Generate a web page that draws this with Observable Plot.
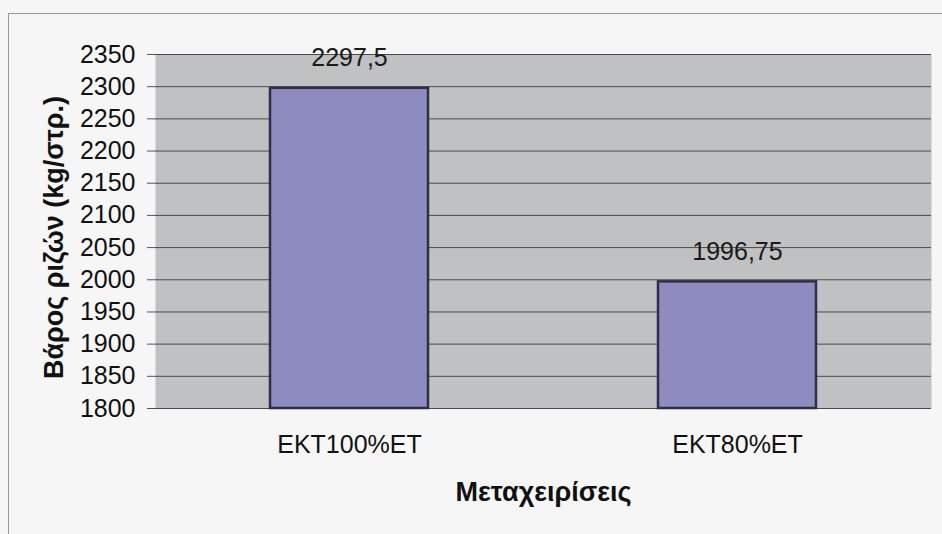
<!DOCTYPE html>
<html>
<head>
<meta charset="utf-8">
<script src="https://cdn.jsdelivr.net/npm/d3@7"></script>
<script src="https://cdn.jsdelivr.net/npm/@observablehq/plot@0.6"></script>
<style>
  html, body { margin: 0; padding: 0; background: #f6f6f6; width: 942px; height: 534px; overflow: hidden; }
  #frame { position: absolute; left: 8px; top: 13px; width: 960px; height: 560px; border: 1px solid #9a9a9a; box-sizing: border-box; }
  #chart { position: absolute; left: 0; top: 0; }
  svg { font-family: "Liberation Sans", Arial, sans-serif; }
</style>
</head>
<body>
<div id="frame"></div>
<div id="chart"></div>
<script>
const categories = ["EKT100%ET", "EKT80%ET"];
const values = [2297.5, 1996.75];
const valueLabels = ["2297,5", "1996,75"];
const yTicks = [1800, 1850, 1900, 1950, 2000, 2050, 2100, 2150, 2200, 2250, 2300, 2350];
const yTitle = "Βάρος ριζών (kg/στρ.)";
const xTitle = "Μεταχειρίσεις";

const data = categories.map((c, i) => ({cat: c, v: values[i], lab: valueLabels[i]}));

const chart = Plot.plot({
  width: 942,
  height: 534,
  marginLeft: 155,
  marginRight: 11,
  marginTop: 54,
  marginBottom: 126,
  style: {background: "transparent", fontFamily: "Liberation Sans, Arial, sans-serif", color: "#111"},
  x: {domain: categories, paddingInner: 0.593, paddingOuter: 0.2965, label: null},
  y: {domain: [1800, 2350], label: null},
  marks: [
    Plot.frame({fill: "#c0c1c3", stroke: null}),
    Plot.ruleY(yTicks, {stroke: "#4a4a4a", strokeWidth: 1}),
    Plot.ruleX([0], {frameAnchor: "left", stroke: "#777", strokeWidth: 1}),
    Plot.barY(data, {x: "cat", y1: 1800, y2: "v", fill: "#8e8bc0", stroke: "#2e2e4a", strokeWidth: 2.5}),
    Plot.text(data, {x: "cat", y: "v", text: "lab", dy: -30, fontSize: 25, fill: "#1a1a1a"}),
    Plot.axisY({ticks: yTicks, tickSize: 8, tickPadding: 12, fontSize: 25, label: null, tickFormat: d => String(d), stroke: "#555"}),
    Plot.axisX({tickSize: 0, tickPadding: 27, fontSize: 25, label: null}),
    Plot.text([yTitle], {frameAnchor: "left", textAnchor: "middle", lineAnchor: "middle", dx: -101, dy: 6, rotate: -90, fontSize: 27, fontWeight: "bold", fill: "#111"}),
    Plot.text([xTitle], {frameAnchor: "bottom", lineAnchor: "middle", dy: 84, fontSize: 27, fontWeight: "bold", fill: "#111"})
  ]
});
document.getElementById("chart").appendChild(chart);
</script>
</body>
</html>
